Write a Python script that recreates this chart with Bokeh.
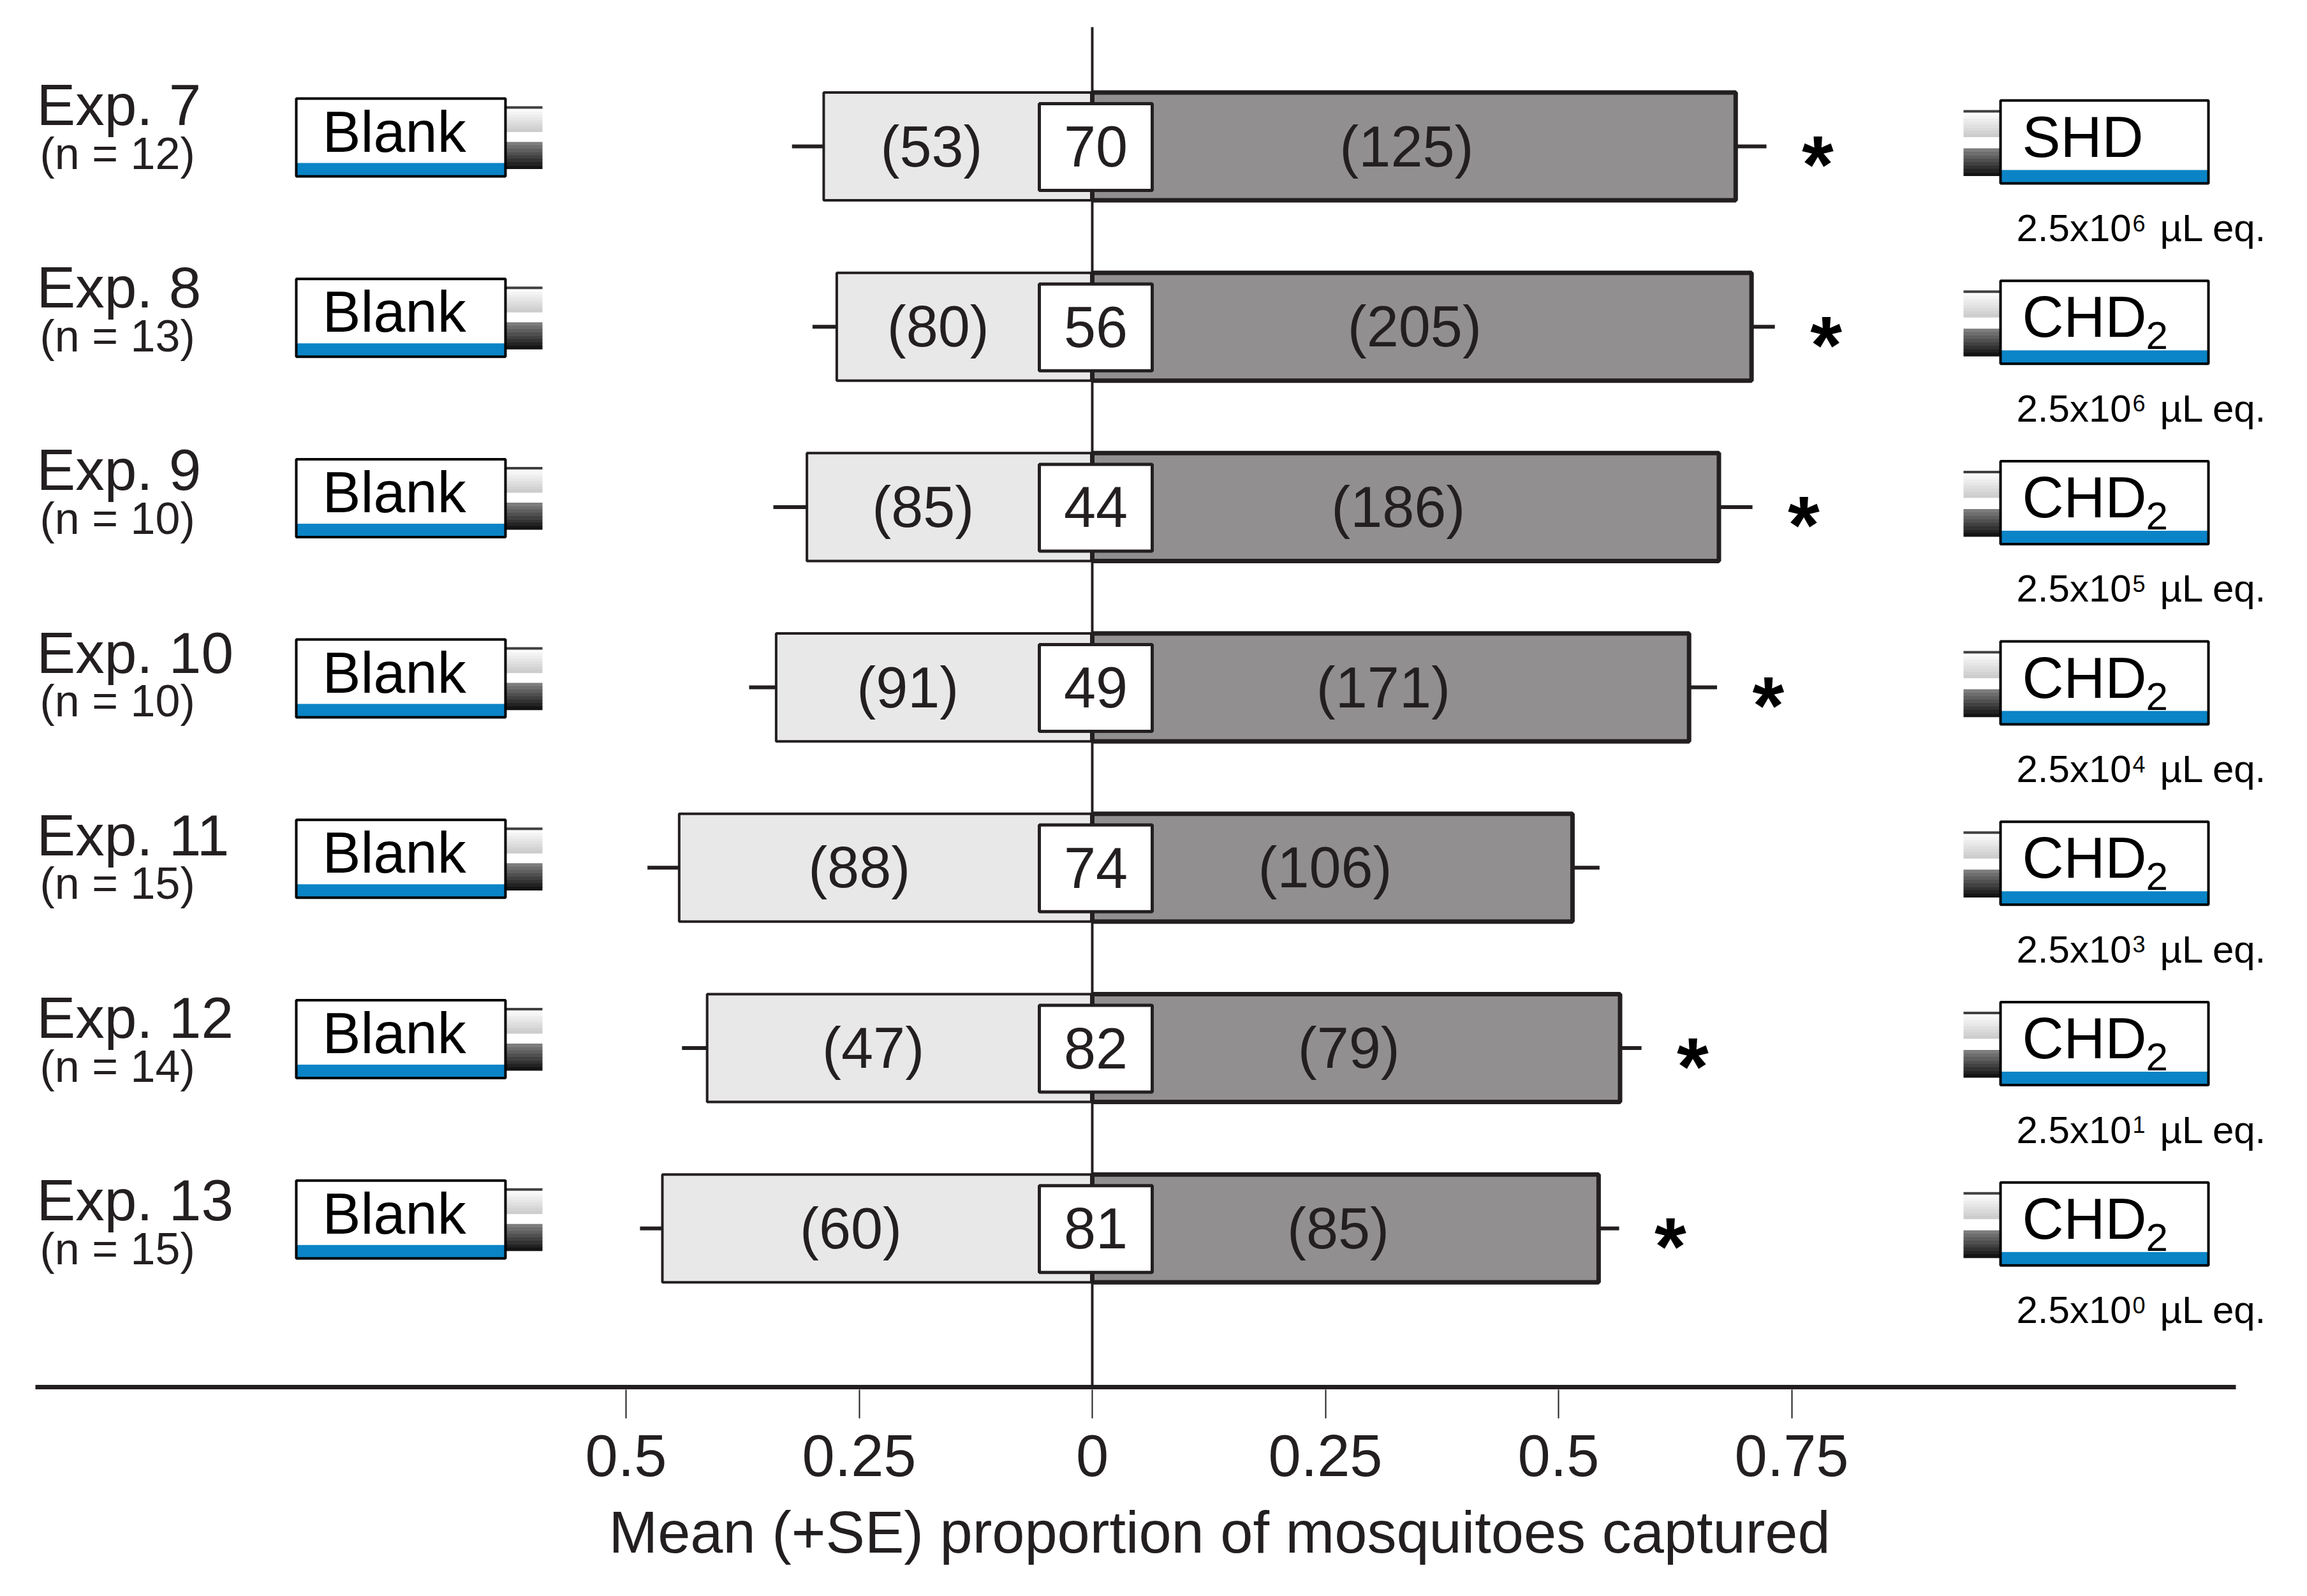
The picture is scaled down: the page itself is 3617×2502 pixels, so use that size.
import numpy as np
from bokeh.plotting import figure
from bokeh.models import (Range1d, LinearAxis, FixedTicker, Title, ColumnDataSource)
from bokeh.core.properties import value
from bokeh.embed import file_html
from bokeh.resources import INLINE

# ---------------- data ----------------
experiments = ["Exp. 7", "Exp. 8", "Exp. 9", "Exp. 10", "Exp. 11", "Exp. 12", "Exp. 13"]
n_replicates = [12, 13, 10, 10, 15, 14, 15]
blank_mean = [0.288, 0.274, 0.306, 0.339, 0.443, 0.413, 0.461]
blank_se = [0.034, 0.026, 0.036, 0.029, 0.034, 0.027, 0.024]
treat_mean = [0.690, 0.707, 0.672, 0.640, 0.515, 0.566, 0.543]
treat_se = [0.033, 0.025, 0.036, 0.030, 0.029, 0.023, 0.022]
blank_counts = [53, 80, 85, 91, 88, 47, 60]
treat_counts = [125, 205, 186, 171, 106, 79, 85]
no_choice = [70, 56, 44, 49, 74, 82, 81]
treat_names = ["SHD", "CHD", "CHD", "CHD", "CHD", "CHD", "CHD"]
treat_subscripts = ["", "2", "2", "2", "2", "2", "2"]
dose_exponents = ["6", "6", "5", "4", "3", "1", "0"]
significant = [True, True, True, True, False, True, True]
control_name = "Blank"
tick_values = [-0.5, -0.25, 0, 0.25, 0.5, 0.75]
tick_labels = ["0.5", "0.25", "0", "0.25", "0.5", "0.75"]
x_label = "Mean (+SE) proportion of mosquitoes captured"

# ---------------- layout helpers ----------------
FONT = "Liberation Sans"
INK = "#231f20"
FW, FH = 3600, 2178
X0, XU = 1712.0, 1462.0      # pixel of zero, pixels per unit
Y0, YU = 229.0, 282.7        # pixel of first row centre, pixels per row


def xd(px):
    return (px - X0) / XU


def yd(px):
    return (px - Y0) / YU


def dy(px):
    return px / YU


nrow = len(experiments)
rows = [float(i) for i in range(nrow)]
R = np.array(rows)
bm = np.array(blank_mean)
bse = np.array(blank_se)
tm = np.array(treat_mean)
tse = np.array(treat_se)

p = figure(frame_width=FW, frame_height=FH,
           x_range=Range1d(xd(0), xd(FW)), y_range=Range1d(yd(FH), yd(0)),
           output_backend="svg", toolbar_location=None,
           x_axis_location=None, y_axis_location=None,
           min_border_left=0, min_border_right=0, min_border_top=0,
           min_border_bottom=300, outline_line_color=None,
           background_fill_color="white", border_fill_color="white")
p.grid.visible = False


def col(arr):
    return [float(v) for v in arr]


# ---------------- bars ----------------
src = ColumnDataSource(dict(
    row=rows, bl=col(-bm), tr=col(tm), ble=col(-(bm + bse)), tre=col(tm + tse),
))
p.hbar(y="row", left="bl", right=0, height=0.598, source=src,
       fill_color="#e9e8e8", line_color=INK, line_width=4)
p.hbar(y="row", left=0, right="tr", height=0.598, source=src,
       fill_color="#918f90", line_color=INK, line_width=7)
p.segment(x0="bl", x1="ble", y0="row", y1="row", source=src, line_color=INK, line_width=6)
p.segment(x0="tr", x1="tre", y0="row", y1="row", source=src, line_color=INK, line_width=6)

# centre line and axis line
p.segment(x0=[0.0], x1=[0.0], y0=[yd(42)], y1=[yd(2174)], line_color=INK, line_width=4)
p.segment(x0=[xd(55)], x1=[xd(3505)], y0=[yd(2174)], y1=[yd(2174)], line_color=INK, line_width=7)

# no-choice boxes
box_l, box_r = -83 / XU, 94 / XU
p.quad(left=box_l, right=box_r, top=col(R - dy(67)), bottom=col(R + dy(69)),
       fill_color="white", line_color=INK, line_width=5)

txt = dict(text_font=value(FONT), text_color=INK, text_baseline="middle")
p.text(x=[0.5 * (box_l + box_r)] * nrow, y=rows, text=[str(v) for v in no_choice],
       text_font_size="90px", text_align="center", **txt)
p.text(x=col(0.5 * (-bm + box_l)), y=rows, text=["(%d)" % v for v in blank_counts],
       text_font_size="90px", text_align="center", **txt)
p.text(x=col(0.5 * (box_r + tm) - 0.04), y=rows, text=["(%d)" % v for v in treat_counts],
       text_font_size="90px", text_align="center", **txt)

# ---------------- left labels ----------------
drift = 3.5 * R
p.text(x=[xd(57)] * nrow, y=col(R + dy(-65) + dy(drift)), text=experiments,
       text_font_size="91px", text_align="left", **txt)
p.text(x=[xd(62)] * nrow, y=col(R + dy(11) + dy(drift)), text=["(n = %d)" % n for n in n_replicates],
       text_font_size="70px", text_align="left", **txt)


# ---------------- trap icons ----------------
def gradient(top_px, bot_px, c0, c1, n=8):
    t = np.linspace(top_px, bot_px, n + 1)
    cols = []
    for k in range(n):
        f = k / (n - 1)
        c = [int(round(a + (b - a) * f)) for a, b in zip(c0, c1)]
        cols.append("#%02x%02x%02x" % tuple(c))
    return t[:-1], t[1:], cols


def connector(xl, xr, up, lo):
    tops, bots, cols = gradient(up[0] + 4, up[1], (250, 250, 250), (205, 205, 205))
    for t, b, c in zip(tops, bots, cols):
        p.quad(left=xd(xl), right=xd(xr), top=col(R + dy(t)), bottom=col(R + dy(b + 0.6)),
               fill_color=c, line_color=None)
    p.quad(left=xd(xl), right=xd(xr), top=col(R + dy(up[0])), bottom=col(R + dy(up[0] + 4)),
           fill_color="#404040", line_color=None)
    tops, bots, cols = gradient(lo[0], lo[1], (125, 125, 125), (20, 20, 20))
    for t, b, c in zip(tops, bots, cols):
        p.quad(left=xd(xl), right=xd(xr), top=col(R + dy(t)), bottom=col(R + dy(b + 0.6)),
               fill_color=c, line_color=None)


def trap(xl, xr, top, bot, band):
    p.quad(left=xd(xl), right=xd(xr), top=col(R + dy(top)), bottom=col(R + dy(bot)),
           fill_color="white", line_color=None)
    p.quad(left=xd(xl), right=xd(xr), top=col(R + dy(bot - band)), bottom=col(R + dy(bot)),
           fill_color="#0a84c6", line_color=None)
    p.quad(left=xd(xl), right=xd(xr), top=col(R + dy(top)), bottom=col(R + dy(bot)),
           fill_alpha=0, line_color="black", line_width=4)


blk = dict(text_font=value(FONT), text_color="black", text_baseline="middle", text_align="left")

# left (blank) traps
connector(793, 850, (-63, -23), (-7, 35))
trap(464, 792, -75, 47, 21)
p.text(x=[xd(505)] * nrow, y=col(R + dy(-23)), text=[control_name] * nrow,
       text_font_size="90px", **blk)

# right (treatment) traps
connector(3078, 3136, (-57, -15), (3, 46))
trap(3136, 3462, -72, 58, 21)
p.text(x=[xd(3170)] * nrow, y=col(R + dy(-15)), text=treat_names,
       text_font_size="90px", **blk)
sub_rows = [r for r, s in zip(rows, treat_subscripts) if s]
p.text(x=[xd(3364)] * len(sub_rows), y=col(np.array(sub_rows) + dy(14)),
       text=[s for s in treat_subscripts if s], text_font_size="62px", **blk)

# dose labels
p.text(x=[xd(3161)] * nrow, y=col(R + dy(128)), text=["2.5x10"] * nrow,
       text_font_size="60px", **blk)
p.text(x=[xd(3343)] * nrow, y=col(R + dy(120)), text=dose_exponents,
       text_font_size="36px", **blk)
p.text(x=[xd(3386)] * nrow, y=col(R + dy(128)), text=["\u00b5L eq."] * nrow,
       text_font_size="60px", **blk)

# significance stars
star_x = [float(a + b + 0.055) for a, b, s in zip(treat_mean, treat_se, significant) if s]
star_y = [r + dy(28) for r, s in zip(rows, significant) if s]
p.text(x=star_x, y=star_y, text=["*"] * len(star_x),
       text_font_size="128px", text_font_style="bold", text_align="center",
       text_font=value(FONT), text_color="black", text_baseline="middle")

# ---------------- axis ----------------
ax = LinearAxis(ticker=FixedTicker(ticks=tick_values),
                major_label_overrides=dict(zip(tick_values, tick_labels)),
                axis_line_color=None, major_tick_out=45, major_tick_in=0,
                minor_tick_line_color=None, major_tick_line_width=2,
                major_tick_line_color=INK,
                major_label_text_font_size="92px", major_label_text_font=FONT,
                major_label_text_color=INK, major_label_standoff=26)
p.add_layout(ax, "below")
p.add_layout(Title(text=x_label, align="left", offset=954, text_font_size="92px",
                   text_font=FONT, text_font_style="normal", text_color=INK,
                   standoff=64), "below")

open("out.html", "w").write(file_html(p, INLINE))
